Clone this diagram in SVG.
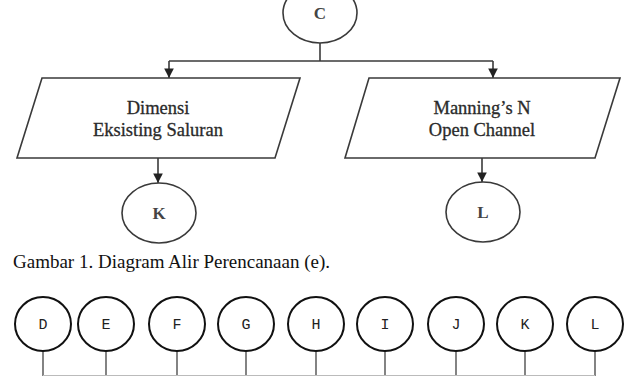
<svg xmlns="http://www.w3.org/2000/svg" width="626" height="376" viewBox="0 0 626 376">
  <style>
    .shape { fill: #ffffff; stroke: #3a3a3a; stroke-width: 1.6; }
    .wire { fill: none; stroke: #3a3a3a; stroke-width: 1.6; }
    .label { font-family: "Liberation Serif", "Times New Roman", "DejaVu Serif", serif; font-size: 18.5px; fill: #2a2a2a; stroke: #2a2a2a; stroke-width: 0.3; text-anchor: middle; }
    .conn { font-family: "Liberation Serif", "Times New Roman", "DejaVu Serif", serif; font-size: 17px; font-weight: bold; fill: #444444; text-anchor: middle; }
    .caption { font-family: "Liberation Serif", "Times New Roman", "DejaVu Serif", serif; font-size: 19px; fill: #111111; }
    .ref { fill: #ffffff; stroke: #111111; stroke-width: 2; }
    .refwire { fill: none; stroke: #333333; stroke-width: 1.2; }
    .reflabel { font-family: "Liberation Mono", "Courier New", "DejaVu Sans Mono", monospace; font-size: 15px; fill: #222222; text-anchor: middle; }
  </style>
  <defs>
    <marker id="arrow" viewBox="0 0 10 10" refX="10" refY="5" markerWidth="6" markerHeight="6" orient="auto" markerUnits="strokeWidth">
      <path d="M0,0 L10,5 L0,10 Z" fill="#222222"/>
    </marker>
  </defs>

  <!-- connectors -->
  <g id="connectors">
    <path class="wire" d="M320,43 V61"/>
    <path class="wire" d="M169,61 H493"/>
    <path class="wire" d="M169,61 V78" marker-end="url(#arrow)"/>
    <path class="wire" d="M493,61 V78" marker-end="url(#arrow)"/>
    <path class="wire" d="M158,158 V183" marker-end="url(#arrow)"/>
    <path class="wire" d="M482,158 V182" marker-end="url(#arrow)"/>
  </g>

  <g id="node-c">
    <ellipse class="shape" cx="320" cy="13" rx="37" ry="30"/>
    <text class="conn" x="320" y="19">C</text>
  </g>

  <g id="node-dimensi">
    <polygon class="shape" points="42,78 300,78 275,158 17,158"/>
    <text class="label" x="158" y="114">Dimensi</text>
    <text class="label" x="158" y="136">Eksisting Saluran</text>
  </g>

  <g id="node-manning">
    <polygon class="shape" points="369,78 620,78 595,158 345,158"/>
    <text class="label" x="482" y="114">Manning’s N</text>
    <text class="label" x="482" y="136">Open Channel</text>
  </g>

  <g id="node-k">
    <ellipse class="shape" cx="159" cy="213" rx="37" ry="30"/>
    <text class="conn" x="159" y="219">K</text>
  </g>

  <g id="node-l">
    <ellipse class="shape" cx="483" cy="212" rx="37" ry="30"/>
    <text class="conn" x="483" y="218">L</text>
  </g>

  <text class="caption" x="13" y="268">Gambar 1. Diagram Alir Perencanaan (e).</text>

  <!-- off-page connector row -->
  <g id="ref-connectors">
    <path class="refwire" d="M43,351 V376 M106,351 V376 M177,351 V376 M246,351 V376 M316,351 V376 M385,351 V376 M456,351 V376 M525,351 V376 M595,351 V376"/>
    <path fill="none" stroke="#bbbbbb" stroke-width="1" d="M43,375.5 H595"/>
  </g>
  <g id="ref-d"><ellipse class="ref" cx="43" cy="324" rx="28" ry="27"/><text class="reflabel" x="43" y="329">D</text></g>
  <g id="ref-e"><ellipse class="ref" cx="106" cy="324" rx="28" ry="27"/><text class="reflabel" x="106" y="329">E</text></g>
  <g id="ref-f"><ellipse class="ref" cx="177" cy="324" rx="28" ry="27"/><text class="reflabel" x="177" y="329">F</text></g>
  <g id="ref-g"><ellipse class="ref" cx="246" cy="324" rx="28" ry="27"/><text class="reflabel" x="246" y="329">G</text></g>
  <g id="ref-h"><ellipse class="ref" cx="316" cy="324" rx="28" ry="27"/><text class="reflabel" x="316" y="329">H</text></g>
  <g id="ref-i"><ellipse class="ref" cx="385" cy="324" rx="28" ry="27"/><text class="reflabel" x="385" y="329">I</text></g>
  <g id="ref-j"><ellipse class="ref" cx="456" cy="324" rx="28" ry="27"/><text class="reflabel" x="456" y="329">J</text></g>
  <g id="ref-k"><ellipse class="ref" cx="525" cy="324" rx="28" ry="27"/><text class="reflabel" x="525" y="329">K</text></g>
  <g id="ref-l"><ellipse class="ref" cx="595" cy="324" rx="28" ry="27"/><text class="reflabel" x="595" y="329">L</text></g>
</svg>
